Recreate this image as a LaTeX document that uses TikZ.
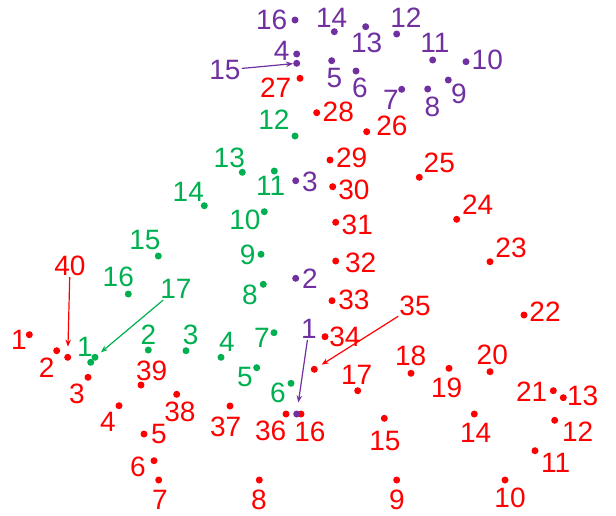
\documentclass[tikz,border=0pt]{standalone}
\usepackage{fontspec}
\setmainfont{Liberation Sans}
\usepackage{tikz}
\usetikzlibrary{arrows.meta}
\definecolor{dotred}{HTML}{FF0000}
\definecolor{dotgreen}{HTML}{00B050}
\definecolor{dotpurple}{HTML}{7030A0}
\tikzset{
  pt/.style={circle,inner sep=0pt,minimum size=7pt},
  num/.style={inner sep=1pt,font=\fontsize{28}{28}\selectfont},
  pointer/.style={-{Stealth[length=7pt,width=5.5pt]},line width=1.2pt,
    shorten >=5pt}}

\begin{document}
\begin{tikzpicture}[x=1pt,y=-1pt,
  rdot/.style={pt,fill=dotred},
  gdot/.style={pt,fill=dotgreen},
  pdot/.style={pt,fill=dotpurple},
  rnum/.style={num,text=dotred},
  gnum/.style={num,text=dotgreen},
  pnum/.style={num,text=dotpurple}]

  \useasboundingbox (0,0) rectangle (616,515);

  % red outline
  \node[rdot] (r1) at (29.3,334.7) {};   \node[rnum] (r1l) at (19,340) {1};
  \node[rdot] (r2) at (56.7,350.7) {};   \node[rnum] (r2l) at (46.7,368) {2};
  \node[rdot] (r3) at (88,377.3) {};     \node[rnum] (r3l) at (77,394) {3};
  \node[rdot] (r4) at (119,405.7) {};    \node[rnum] (r4l) at (108,421.7) {4};
  \node[rdot] (r5) at (144,434) {};      \node[rnum] (r5l) at (159,434) {5};
  \node[rdot] (r6) at (154,460.7) {};    \node[rnum] (r6l) at (138,466.7) {6};
  \node[rdot] (r7) at (158.7,480) {};    \node[rnum] (r7l) at (160,500) {7};
  \node[rdot] (r8) at (259.3,480) {};    \node[rnum] (r8l) at (259,500) {8};
  \node[rdot] (r9) at (396.7,480) {};    \node[rnum] (r9l) at (397,500) {9};
  \node[rdot] (r10) at (505,480) {};     \node[rnum] (r10l) at (510,498) {10};
  \node[rdot] (r11) at (535,450.7) {};   \node[rnum] (r11l) at (555.7,463.3) {11};
  \node[rdot] (r12) at (554.7,420.3) {}; \node[rnum] (r12l) at (577.7,431.7) {12};
  \node[rdot] (r13) at (563.3,397.7) {}; \node[rnum] (r13l) at (582.7,396) {13};
  \node[rdot] (r14) at (474.3,414) {};   \node[rnum] (r14l) at (475.7,433.3) {14};
  \node[rdot] (r15) at (384.3,418.3) {}; \node[rnum] (r15l) at (385,440.7) {15};
  \node[rdot] (r16) at (301,414) {};     \node[rnum] (r16l) at (310,431.7) {16};
  \node[rdot] (r17) at (357.7,390.7) {}; \node[rnum] (r17l) at (356.7,375) {17};
  \node[rdot] (r18) at (411,373.3) {};   \node[rnum] (r18l) at (410.7,356) {18};
  \node[rdot] (r19) at (449,368.3) {};   \node[rnum] (r19l) at (446.7,388.3) {19};
  \node[rdot] (r20) at (490,371.7) {};   \node[rnum] (r20l) at (492.3,355) {20};
  \node[rdot] (r21) at (553.3,390.7) {}; \node[rnum] (r21l) at (531.7,391.7) {21};
  \node[rdot] (r22) at (524,315) {};     \node[rnum] (r22l) at (545,311.7) {22};
  \node[rdot] (r23) at (490,261.7) {};   \node[rnum] (r23l) at (511,248.3) {23};
  \node[rdot] (r24) at (456.7,219.3) {}; \node[rnum] (r24l) at (477.7,205) {24};
  \node[rdot] (r25) at (419.3,177.3) {}; \node[rnum] (r25l) at (439.3,162.7) {25};
  \node[rdot] (r26) at (366.7,131.7) {}; \node[rnum] (r26l) at (392,126) {26};
  \node[rdot] (r27) at (300,78.3) {};    \node[rnum] (r27l) at (275.7,87.3) {27};
  \node[rdot] (r28) at (316.7,112.7) {}; \node[rnum] (r28l) at (338.3,111.7) {28};
  \node[rdot] (r29) at (330,160) {};     \node[rnum] (r29l) at (351.7,157.7) {29};
  \node[rdot] (r30) at (332.7,186.7) {}; \node[rnum] (r30l) at (354,190) {30};
  \node[rdot] (r31) at (335.7,222.3) {}; \node[rnum] (r31l) at (357.3,225) {31};
  \node[rdot] (r32) at (335.7,261) {};   \node[rnum] (r32l) at (360.7,263.3) {32};
  \node[rdot] (r33) at (332,300.7) {};   \node[rnum] (r33l) at (354,300) {33};
  \node[rdot] (r34) at (325,336.7) {};   \node[rnum] (r34l) at (345,336.7) {34};
  \node[rdot] (r35) at (314.3,369.3) {}; \node[rnum] (r35l) at (415,305.7) {35};
  \node[rdot] (r36) at (286,414) {};     \node[rnum] (r36l) at (270.7,430.7) {36};
  \node[rdot] (r37) at (230,406) {};     \node[rnum] (r37l) at (225.7,426.7) {37};
  \node[rdot] (r38) at (176.7,394.3) {}; \node[rnum] (r38l) at (180,411.7) {38};
  \node[rdot] (r39) at (141,385) {};     \node[rnum] (r39l) at (151.7,370.7) {39};
  \node[rdot] (r40) at (67.7,357.3) {};  \node[rnum] (r40l) at (70,266) {40};

  % green outline
  \node[gdot] (g1) at (90.7,362.3) {};   \node[gnum] (g1l) at (85,346.7) {1};
  \node[gdot] (g2) at (148.3,350) {};    \node[gnum] (g2l) at (148.3,335) {2};
  \node[gdot] (g3) at (186,350.7) {};    \node[gnum] (g3l) at (190.7,335) {3};
  \node[gdot] (g4) at (221,357.3) {};    \node[gnum] (g4l) at (227,341.7) {4};
  \node[gdot] (g5) at (256.7,367.7) {};  \node[gnum] (g5l) at (245,377.3) {5};
  \node[gdot] (g6) at (291,383.3) {};    \node[gnum] (g6l) at (278,393.3) {6};
  \node[gdot] (g7) at (274,332.7) {};    \node[gnum] (g7l) at (262,338) {7};
  \node[gdot] (g8) at (263.3,284.3) {};  \node[gnum] (g8l) at (250,295) {8};
  \node[gdot] (g9) at (261,254.3) {};    \node[gnum] (g9l) at (247.7,255) {9};
  \node[gdot] (g10) at (264.3,211.7) {}; \node[gnum] (g10l) at (245,220) {10};
  \node[gdot] (g11) at (274.3,171) {};   \node[gnum] (g11l) at (270.7,186) {11};
  \node[gdot] (g12) at (295,136) {};     \node[gnum] (g12l) at (274,120) {12};
  \node[gdot] (g13) at (242.3,172.3) {}; \node[gnum] (g13l) at (229.3,158.3) {13};
  \node[gdot] (g14) at (204.3,205.7) {}; \node[gnum] (g14l) at (188.3,191.7) {14};
  \node[gdot] (g15) at (158.3,256) {};   \node[gnum] (g15l) at (145,240) {15};
  \node[gdot] (g16) at (128.3,294) {};   \node[gnum] (g16l) at (118.3,276.7) {16};
  \node[gdot] (g17) at (95,357.3) {};    \node[gnum] (g17l) at (176,289.3) {17};

  % purple outline
  \node[pdot] (p1) at (296.7,414) {};    \node[pnum] (p1l) at (309,329) {1};
  \node[pdot] (p2) at (295.7,278.3) {};  \node[pnum] (p2l) at (310,278.3) {2};
  \node[pdot] (p3) at (295.7,180.7) {};  \node[pnum] (p3l) at (310,181.7) {3};
  \node[pdot] (p4) at (296.7,54) {};     \node[pnum] (p4l) at (281.7,50.7) {4};
  \node[pdot] (p5) at (331.7,60.7) {};   \node[pnum] (p5l) at (334.3,78.3) {5};
  \node[pdot] (p6) at (356,71) {};       \node[pnum] (p6l) at (360,88.3) {6};
  \node[pdot] (p7) at (401.7,89.3) {};   \node[pnum] (p7l) at (391,100) {7};
  \node[pdot] (p8) at (427.7,89) {};     \node[pnum] (p8l) at (432.3,106.7) {8};
  \node[pdot] (p9) at (448.3,80) {};     \node[pnum] (p9l) at (459,94.3) {9};
  \node[pdot] (p10) at (466,61.7) {};    \node[pnum] (p10l) at (487.3,60) {10};
  \node[pdot] (p11) at (432.7,60) {};    \node[pnum] (p11l) at (435,43.3) {11};
  \node[pdot] (p12) at (396.7,34) {};    \node[pnum] (p12l) at (406,17.3) {12};
  \node[pdot] (p13) at (365.7,26.7) {};  \node[pnum] (p13l) at (366.7,43.3) {13};
  \node[pdot] (p14) at (334.3,31.7) {};  \node[pnum] (p14l) at (331.7,18.3) {14};
  \node[pdot] (p15) at (296.7,63.3) {};  \node[pnum] (p15l) at (225,70) {15};
  \node[pdot] (p16) at (295,20) {};      \node[pnum] (p16l) at (271.7,20) {16};

  % pointers from crowded labels
  \draw[pointer,dotred,shorten >=7pt] (r40l) -- (r40);
  \draw[pointer,dotred] (r35l) -- (r35);
  \draw[pointer,dotgreen,shorten >=4pt] (g17l) -- (g17);
  \draw[pointer,dotpurple,shorten >=8pt] (p1l) -- (p1);
  \draw[pointer,dotpurple,shorten >=0pt] (p15l) -- (p15);
\end{tikzpicture}
\end{document}
